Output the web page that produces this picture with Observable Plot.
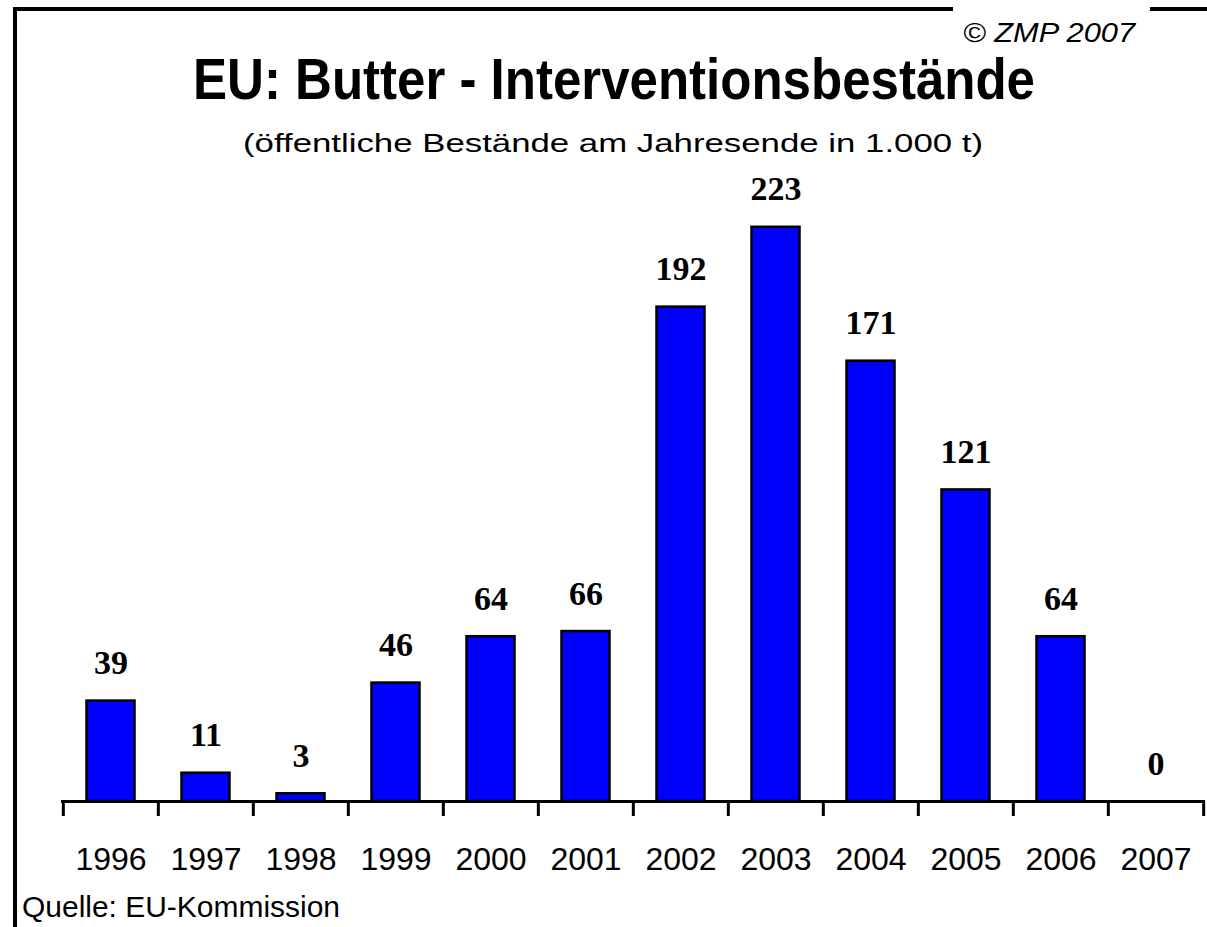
<!DOCTYPE html>
<html>
<head>
<meta charset="utf-8">
<script src="https://cdn.jsdelivr.net/npm/d3@7"></script>
<script src="https://cdn.jsdelivr.net/npm/@observablehq/plot@0.6"></script>
<style>
  html, body { margin: 0; padding: 0; background: white; }
  #wrap { position: relative; width: 1207px; height: 927px; background: white; overflow: hidden; }
  #wrap > svg, #wrap > figure { position: absolute; left: 0; top: 0; margin: 0; }
  .line { position: absolute; background: black; }
</style>
</head>
<body>
<div id="wrap"></div>
<script>
// ---- data ----
const years = ["1996","1997","1998","1999","2000","2001","2002","2003","2004","2005","2006","2007"];
const values = [39, 11, 3, 46, 64, 66, 192, 223, 171, 121, 64, 0];
const titleText = "EU: Butter - Interventionsbestände";
const subtitleText = "(öffentliche Bestände am Jahresende in 1.000 t)";
const copyrightText = "© ZMP 2007";
const sourceText = "Quelle: EU-Kommission";

const data = years.map((year, i) => ({year, value: values[i]}));

const W = 1207, H = 927;
const marginLeft = 61, marginRight = 2;
const baseY = 801, tickEnd = 816;
const bw = (W - marginLeft - marginRight) / years.length;
const pxPerUnit = 2.575;
const yMax = d3.max(values);

const chart = Plot.plot({
  width: W,
  height: H,
  marginLeft,
  marginRight,
  marginTop: 0,
  marginBottom: H - tickEnd,
  style: {background: "transparent", fontFamily: "Liberation Sans, Arial, sans-serif", color: "black", overflow: "visible"},
  x: {type: "band", domain: years, padding: 0, axis: null},
  y: {domain: [0, yMax], range: [baseY, baseY - yMax * pxPerUnit], axis: null},
  marks: [
    Plot.barY(data.filter(d => d.value > 0), {
      x: "year", y: "value", fill: "#0000FF", stroke: "black", strokeWidth: 2.5,
      insetLeft: 23.5, insetRight: 23.5
    }),
    Plot.text(data, {
      x: "year", y: "value", text: d => String(d.value),
      dy: -27, lineAnchor: "bottom", fontSize: 34, fontWeight: "bold",
      fontFamily: "Liberation Serif, Times New Roman, serif", fill: "black"
    }),
    Plot.ruleY([0], {stroke: "black", strokeWidth: 3}),
    Plot.ruleX(years, {x: d => d, dx: -bw / 2, insetTop: baseY, stroke: "black", strokeWidth: 3}),
    Plot.ruleX(years.slice(-1), {x: d => d, dx: bw / 2, insetTop: baseY, stroke: "black", strokeWidth: 3}),
    Plot.axisX({tickSize: 0, tickPadding: 31, fontSize: 32, label: null, fontFamily: "Liberation Sans, Arial, sans-serif", fill: "black"})
  ]
});

const wrap = document.getElementById("wrap");
wrap.appendChild(chart);

// ---- overlay texts ----
const svg = d3.select(wrap).append("svg")
  .attr("width", W).attr("height", H)
  .style("position", "absolute").style("left", 0).style("top", 0);

function addText(str, x, y, size, weight, style, len, family) {
  svg.append("text")
    .attr("x", x).attr("y", y)
    .attr("font-family", family || "Liberation Sans, Arial, sans-serif")
    .attr("font-size", size)
    .attr("font-weight", weight)
    .attr("font-style", style)
    .attr("fill", "black")
    .attr("textLength", len)
    .attr("lengthAdjust", "spacingAndGlyphs")
    .text(str);
}
addText(titleText, 193, 99, 57, "bold", "normal", 842);
addText(subtitleText, 243, 152, 25, "normal", "normal", 740);
addText(copyrightText, 963, 42, 27, "normal", "italic", 172);
addText(sourceText, 22, 917, 29, "normal", "normal", 318);

// ---- frame lines ----
function addLine(l, t, w, h) {
  const d = document.createElement("div");
  d.className = "line";
  d.style.left = l + "px"; d.style.top = t + "px";
  d.style.width = w + "px"; d.style.height = h + "px";
  wrap.appendChild(d);
}
addLine(13, 7, 4, H - 7);
addLine(13, 7, 940, 4);
addLine(1150, 7, W - 1150, 4);
</script>
</body>
</html>
